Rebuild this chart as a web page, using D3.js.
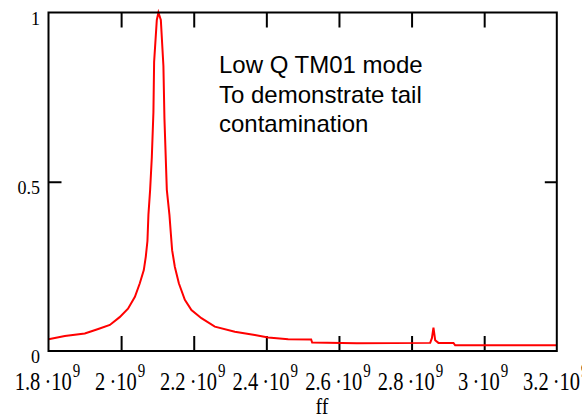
<!DOCTYPE html>
<html>
<head>
<meta charset="utf-8">
<script src="https://cdn.jsdelivr.net/npm/d3@7"></script>
<style>
  html, body { margin: 0; padding: 0; background: #fff; }
  svg { display: block; }
</style>
</head>
<body>
<svg id="chart" width="582" height="417"></svg>
<script>
// ---- data ----
const freqGHz = [
  1.800, 1.845, 1.900, 1.937, 1.969, 1.996, 2.019, 2.038, 2.0515, 2.0625, 2.068,
  2.0725, 2.0752, 2.0799, 2.0846, 2.0890, 2.0909, 2.0983, 2.1028, 2.1094, 2.1165,
  2.1193, 2.1259, 2.1331, 2.1369, 2.1405, 2.1479, 2.1590, 2.1755, 2.1937, 2.2212,
  2.2581, 2.3132, 2.3683, 2.4050, 2.4601, 2.5234, 2.5262, 2.6493, 2.8513, 2.8560,
  2.8603, 2.8650, 2.8740, 2.9154, 2.9200, 3.2000
];
const amplitude = [
  0.035, 0.044, 0.052, 0.065, 0.077, 0.100, 0.125, 0.160, 0.200, 0.239, 0.279,
  0.325, 0.402, 0.476, 0.573, 0.706, 0.854, 0.978, 1.000, 0.978, 0.842,
  0.688, 0.476, 0.402, 0.348, 0.298, 0.249, 0.200, 0.151, 0.121, 0.097,
  0.072, 0.057, 0.047, 0.040, 0.035, 0.034, 0.025, 0.023, 0.024, 0.038,
  0.069, 0.032, 0.024, 0.024, 0.017, 0.017
];
const xTickValues = [1.8, 2.0, 2.2, 2.4, 2.6, 2.8, 3.0, 3.2];
const xTickMantissa = ["1.8", "2", "2.2", "2.4", "2.6", "2.8", "3", "3.2"];
const xTickExponent = "9";
const yTickValues = [0, 0.5, 1];
const yTickLabels = ["0", "0.5", "1"];
const xTitle = "ff";
const noteLines = ["Low Q TM01 mode", "To demonstrate tail", "contamination"];

// ---- drawing ----
const svg = d3.select("#chart");
const serif = "'Liberation Serif', 'Times New Roman', serif";
const sans = "'Liberation Sans', Arial, sans-serif";

const x = d3.scaleLinear().domain([1.8, 3.2]).range([48.5, 556.8]);
const y = d3.scaleLinear().domain([0, 1]).range([351, 12.5]);

svg.append("rect").attr("width", 582).attr("height", 417).attr("fill", "#fff");

// ticks (inward)
const inner = xTickValues.slice(1, -1);
function styleAxis(g) {
  g.select(".domain").remove();
  g.selectAll(".tick line").attr("stroke", "#000").attr("stroke-width", 2);
  g.selectAll(".tick text").remove();
}
svg.append("g").attr("transform", `translate(0,${y(0)})`)
  .call(d3.axisBottom(x).tickValues(inner).tickSizeInner(-15).tickSizeOuter(0))
  .call(styleAxis);
svg.append("g").attr("transform", `translate(0,${y(1)})`)
  .call(d3.axisTop(x).tickValues(inner).tickSizeInner(-15).tickSizeOuter(0))
  .call(styleAxis);
svg.append("g").attr("transform", `translate(${x(1.8)},0)`)
  .call(d3.axisLeft(y).tickValues([0.5]).tickSizeInner(-13).tickSizeOuter(0))
  .call(styleAxis);
svg.append("g").attr("transform", `translate(${x(3.2)},0)`)
  .call(d3.axisRight(y).tickValues([0.5]).tickSizeInner(-12).tickSizeOuter(0))
  .call(styleAxis);

// data line
const line = d3.line()
  .x((d, i) => x(freqGHz[i]))
  .y((d, i) => y(amplitude[i]));
svg.append("path")
  .datum(amplitude)
  .attr("d", line)
  .attr("fill", "none")
  .attr("stroke", "#ff0000")
  .attr("stroke-width", 2)
  .attr("stroke-linejoin", "miter");

// frame
svg.append("rect")
  .attr("x", x(1.8)).attr("y", y(1))
  .attr("width", x(3.2) - x(1.8)).attr("height", y(0) - y(1))
  .attr("fill", "none").attr("stroke", "#000").attr("stroke-width", 2);

// x tick labels
xTickValues.forEach((v, i) => {
  const g = svg.append("g").attr("transform", `translate(${x(v) - 1},390) scale(1,1.25)`);
  const t = g.append("text")
    .attr("text-anchor", "middle")
    .attr("font-family", serif)
    .attr("font-size", 20.5)
    .attr("fill", "#000");
  t.append("tspan").text(xTickMantissa[i] + "\u2009\u00B7" + "10");
  t.append("tspan").attr("font-size", 15).attr("dx", 1).attr("dy", -10.5).text(xTickExponent);
});

// y tick labels
yTickValues.forEach((v, i) => {
  svg.append("text")
    .attr("x", 40).attr("y", y(v) + 12)
    .attr("text-anchor", "end")
    .attr("font-family", serif)
    .attr("font-size", 18)
    .attr("fill", "#000")
    .text(yTickLabels[i]);
});

// x title
svg.append("g").attr("transform", "translate(322,414) scale(1,1.15)")
  .append("text")
  .attr("text-anchor", "middle")
  .attr("font-family", serif)
  .attr("font-size", 20)
  .attr("fill", "#000")
  .text(xTitle);

// annotation
const note = svg.append("text")
  .attr("font-family", sans)
  .attr("font-size", 24)
  .attr("fill", "#000");
noteLines.forEach((s, i) => {
  note.append("tspan").attr("x", 219).attr("y", 73 + i * 29.5).text(s);
});
</script>
</body>
</html>
